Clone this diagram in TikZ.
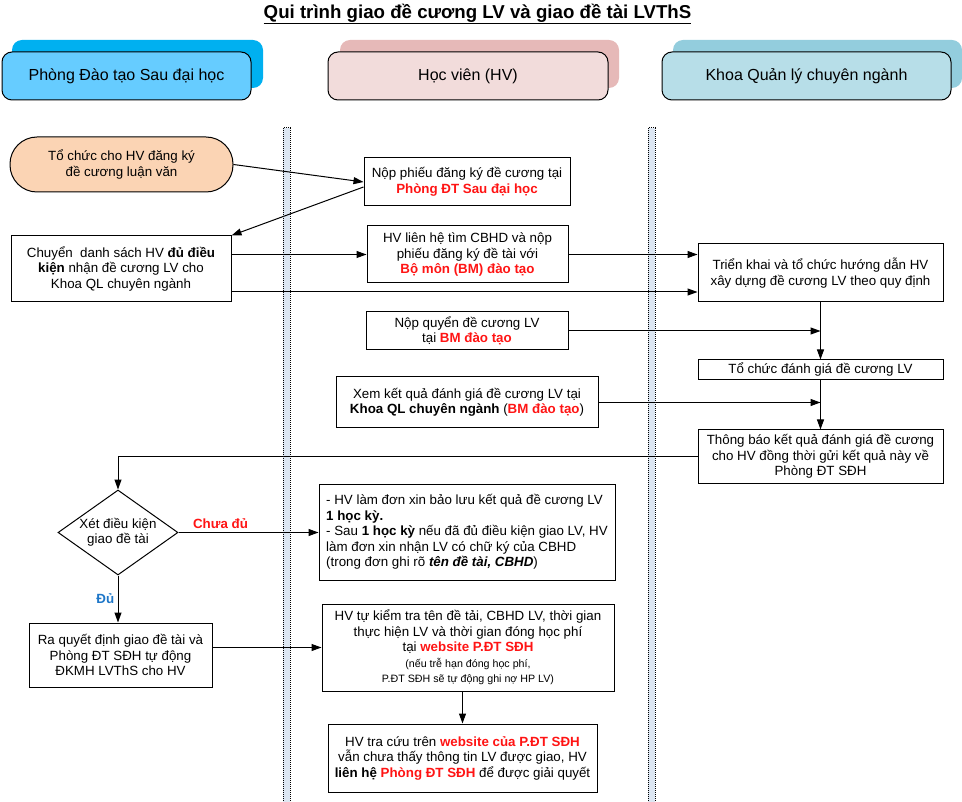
\documentclass[tikz,border=0pt]{standalone}
\usepackage{fontspec}
\setmainfont{Liberation Sans}
\usetikzlibrary{calc,positioning,shapes,shapes.geometric,arrows.meta}

\definecolor{pdtfront}{RGB}{102,204,255}
\definecolor{pdtback}{RGB}{0,176,240}
\definecolor{hvfront}{RGB}{242,220,219}
\definecolor{hvback}{RGB}{230,185,184}
\definecolor{khoafront}{RGB}{183,222,232}
\definecolor{khoaback}{RGB}{147,205,221}
\definecolor{startfill}{RGB}{251,212,180}
\definecolor{dividerfill}{RGB}{220,230,242}
\definecolor{hlred}{RGB}{255,20,20}
\definecolor{okblue}{RGB}{31,119,200}

\newcommand{\redb}[1]{\textcolor{hlred}{\textbf{#1}}}
\newcommand{\smalltxt}{\fontsize{10.67}{15.5}\selectfont}

\begin{document}
\begin{tikzpicture}[x=1pt, y=-1pt]
	\tikzstyle{lane}=[draw=black, line width=1pt, rounded corners=10pt, minimum height=48pt, font=\fontsize{16}{19}\selectfont]
	\tikzstyle{laneback}=[rounded corners=10pt, minimum height=48pt]
	\tikzstyle{task}=[draw=black, line width=1pt, fill=white, align=center, inner sep=2pt, font=\fontsize{13.33}{15.5}\selectfont]
	\tikzstyle{decision}=[task, diamond, aspect=1.4, inner sep=0pt, minimum width=120pt, minimum height=85pt]
	\tikzstyle{divider}=[draw=black, densely dotted, line width=1pt, fill=dividerfill]
	\tikzstyle{flow}=[-{Triangle[length=10pt,width=7pt]}, line width=1pt, draw=black]
	\tikzstyle{answer}=[font=\fontsize{13.33}{15.5}\selectfont\bfseries]

	\useasboundingbox (0,0) rectangle (962,802);

	\node (title) at (477.5,14) {\fontsize{18.67}{22}\selectfont\bfseries\underline{Qui trình giao đề cương LV và giao đề tài LVThS}};

	% lanes
	\node (pdtb) [laneback, fill=pdtback, minimum width=251pt] at (137.5,64) {};
	\node (pdt) [lane, fill=pdtfront, minimum width=249pt] at (126.5,76) {Phòng Đào tạo Sau đại học};
	\node (hvb) [laneback, fill=hvback, minimum width=279pt] at (479.5,64) {};
	\node (hv) [lane, fill=hvfront, minimum width=280pt] at (468,76) {Học viên (HV)};
	\node (khoab) [laneback, fill=khoaback, minimum width=289pt] at (817.5,64) {};
	\node (khoa) [lane, fill=khoafront, minimum width=289pt] at (806.5,76) {Khoa Quản lý chuyên ngành};

	\draw[divider] (283,128) rectangle (290,803);
	\draw[divider] (648,128) rectangle (655,803);

	% Phong DT Sau dai hoc
	\node (start) [task, fill=startfill, rounded corners=27pt, minimum width=223pt, minimum height=55pt] at (121.5,164.5) {Tổ chức cho HV đăng ký\\đề cương luận văn};
	\node (chuyen) [task, minimum width=220pt, minimum height=66pt] at (121,269) {Chuyển~ danh sách HV \textbf{đủ điều}\\\textbf{kiện} nhận đề cương LV cho\\Khoa QL chuyên ngành};
	\node (xet) [decision] at (118,532.5) {Xét điều kiện\\giao đề tài};
	\node (raqd) [task, minimum width=183pt, minimum height=64pt] at (120.5,655) {Ra quyết định giao đề tài và\\Phòng ĐT SĐH tự động\\ĐKMH LVThS cho HV};

	% Hoc vien
	\node (nopphieu) [task, minimum width=206pt, minimum height=48pt] at (467,182) {Nộp phiếu đăng ký đề cương tại\\\redb{Phòng ĐT Sau đại học}};
	\node (lienhe) [task, minimum width=201pt, minimum height=57pt] at (467.5,254.5) {HV liên hệ tìm CBHD và nộp\\phiếu đăng ký đề tài với\\\redb{Bộ môn (BM) đào tạo}};
	\node (nopquyen) [task, minimum width=202pt, minimum height=38pt] at (467,331) {Nộp quyển đề cương LV\\tại \redb{BM đào tạo}};
	\node (xemkq) [task, minimum width=262pt, minimum height=51pt] at (467,402.5) {Xem kết quả đánh giá đề cương LV tại\\\textbf{Khoa QL chuyên ngành} (\redb{BM đào tạo})};
	\node (baoluu) [task, align=left, minimum width=296pt, minimum height=96pt] at (467,532) {- HV làm đơn xin bảo lưu kết quả đề cương LV\\\textbf{1 học kỳ.}\\- Sau \textbf{1 học kỳ} nếu đã đủ điều kiện giao LV, HV\\làm đơn xin nhận LV có chữ ký của CBHD\\(trong đơn ghi rõ \textbf{\textit{tên đề tài, CBHD}})};
	\node (kiemtra) [task, minimum width=292pt, minimum height=87pt] at (468,647.5) {HV tự kiểm tra tên đề tải, CBHD LV, thời gian\\thực hiện LV và thời gian đóng học phí\\tại \redb{website P.ĐT SĐH}\\{\smalltxt (nếu trễ hạn đóng học phí,}\\{\smalltxt P.ĐT SĐH sẽ tự động ghi nợ HP LV)}};
	\node (tracuu) [task, minimum width=269pt, minimum height=68pt] at (462.5,758) {HV tra cứu trên \redb{website của P.ĐT SĐH}\\vẫn chưa thấy thông tin LV được giao, HV\\\textbf{liên hệ} \redb{Phòng ĐT SĐH} để được giải quyết};

	% Khoa QL chuyen nganh
	\node (trienkhai) [task, minimum width=245pt, minimum height=58pt] at (820.5,273) {Triển khai và tổ chức hướng dẫn HV\\xây dựng đề cương LV theo quy định};
	\node (tochuc) [task, minimum width=245pt, minimum height=20pt] at (820.5,370) {Tổ chức đánh giá đề cương LV};
	\node (thongbao) [task, minimum width=245pt, minimum height=53pt] at (820.5,456.5) {Thông báo kết quả đánh giá đề cương\\cho HV đồng thời gửi kết quả này về\\Phòng ĐT SĐH};

	\draw[flow] (start.east) -- (nopphieu.west);
	\draw[flow] ([yshift=-5pt]nopphieu.west) -- (chuyen.north east);
	\draw[flow] (chuyen.east |- lienhe.west) -- (lienhe.west);
	\draw[flow] (lienhe.east) -- (lienhe.east -| trienkhai.west);
	\draw[flow] ([yshift=-23pt]chuyen.east) -- ([yshift=-23pt]chuyen.east -| trienkhai.west);
	\draw[flow] (trienkhai.south) -- (tochuc.north);
	\draw[flow] (nopquyen.east) -- (nopquyen.east -| tochuc.north);
	\draw[flow] (tochuc.south) -- (thongbao.north);
	\draw[flow] (xemkq.east) -- (xemkq.east -| thongbao.north);
	\draw[flow] (thongbao.west) -| (xet.north);
	\draw[flow] (xet.east) -- (xet.east -| baoluu.west) node[answer, text=hlred, pos=.3, above] {Chưa đủ};
	\draw[flow] (xet.south) -- (xet.south |- raqd.north) node[answer, text=okblue, midway, left] {Đủ};
	\draw[flow] (raqd.east |- kiemtra.west) -- (kiemtra.west);
	\draw[flow] (kiemtra.south -| tracuu.north) -- (tracuu.north);

\end{tikzpicture}
\end{document}
